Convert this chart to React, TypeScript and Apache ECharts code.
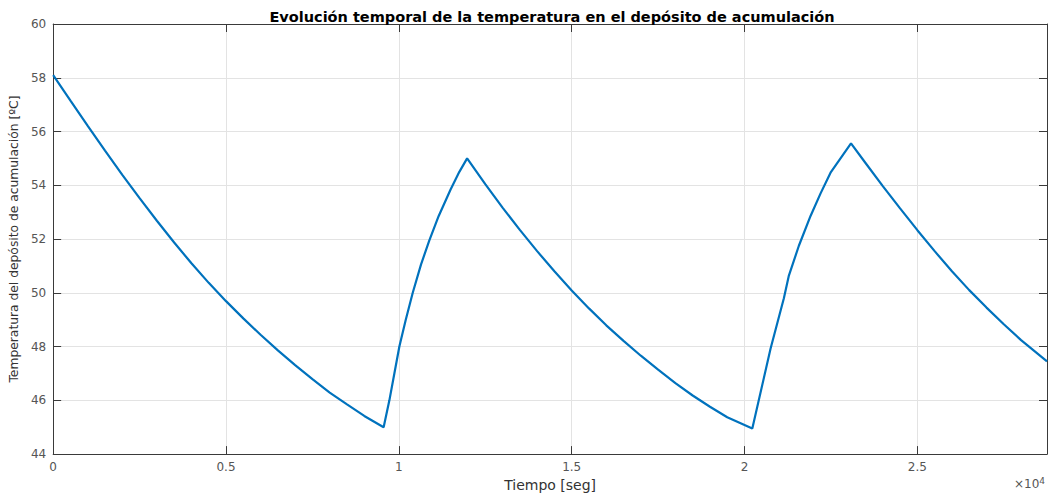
import React, { useEffect, useRef } from "react";
import * as echarts from "echarts";

// Time [s] and temperature [ºC]
const tiempo = [
  0, 500, 1000, 1500, 2000, 2500, 3000, 3500, 4000, 4500, 5000, 5500, 6000, 6500, 7000, 7500, 8000, 8500, 9000, 9560,
  9726, 9870, 10015, 10200, 10402, 10640, 10882, 11150, 11500, 11750, 11975,
  12500, 13000, 13500, 14000, 14500, 15000, 15500, 16000, 16500, 17000, 17500, 18000, 18500, 19000, 19500, 20225,
  20754, 21138, 21283, 21572, 21910, 22200, 22488, 23080,
  23500, 24000, 24500, 25000, 25500, 26000, 26500, 27000, 27500, 28000, 28750,
];
const temperatura = [
  58.1, 57.15, 56.21, 55.29, 54.39, 53.52, 52.68, 51.87, 51.1, 50.37, 49.69, 49.05, 48.44, 47.86, 47.31, 46.79, 46.29, 45.85, 45.42, 45.0,
  46.0, 47.0, 48.0, 49.0, 50.0, 51.05, 51.95, 52.85, 53.85, 54.5, 55.0,
  54.04, 53.17, 52.34, 51.55, 50.8, 50.09, 49.42, 48.79, 48.21, 47.66, 47.14, 46.64, 46.18, 45.76, 45.37, 44.95,
  47.93, 49.8, 50.64, 51.75, 52.86, 53.7, 54.47, 55.56,
  54.83, 53.97, 53.14, 52.33, 51.55, 50.8, 50.1, 49.45, 48.83, 48.24, 47.45,
];

const xMin = 0;
const xMax = 28750;
const xInterval = 5000;
const yMin = 44;
const yMax = 60;
const yInterval = 2;

const titulo = "Evolución temporal de la temperatura en el depósito de acumulación";
const etiquetaX = "Tiempo [seg]";
const etiquetaY = "Temperatura del depósito de acumulación [ºC]";

export default function App() {
  const ref = useRef<HTMLDivElement>(null);
  useEffect(() => {
    document.body.style.margin = "0";
    if (!ref.current) return;
    const chart = echarts.init(ref.current, null, { renderer: "svg" });
    const font = "DejaVu Sans";
    const axisColor = "#3a3a3a";
    const labelColor = "#555555";
    const gridColor = "#e3e3e3";
    const data = tiempo.map((t, i) => [t, temperatura[i]]);
    const xBase = {
      type: "value" as const,
      min: xMin,
      max: xMax,
      interval: xInterval,
      axisLine: { show: true, onZero: false, lineStyle: { color: axisColor, width: 1 } },
      axisTick: { show: true, inside: true, length: 8, lineStyle: { color: axisColor } },
    };
    const yBase = {
      type: "value" as const,
      min: yMin,
      max: yMax,
      interval: yInterval,
      axisLine: { show: true, onZero: false, lineStyle: { color: axisColor, width: 1 } },
      axisTick: { show: true, inside: true, length: 8, lineStyle: { color: axisColor } },
    };
    chart.setOption({
      animation: false,
      backgroundColor: "#ffffff",
      title: {
        text: titulo,
        left: 547,
        textAlign: "center",
        top: 4,
        textStyle: { fontFamily: font, fontSize: 14.5, fontWeight: "bold", color: "#000000" },
      },
      grid: { left: 52, top: 24, right: 6, bottom: 41, containLabel: false },
      xAxis: [
        {
          ...xBase,
          position: "bottom",
          name: etiquetaX,
          nameLocation: "middle",
          nameGap: 21,
          nameTextStyle: { fontFamily: font, fontSize: 14, color: "#333333" },
          axisLabel: {
            fontFamily: font,
            fontSize: 12,
            color: labelColor,
            margin: 7,
            showMaxLabel: false,
            formatter: (v: number) => String(v / 10000),
          },
          splitLine: { show: true, lineStyle: { color: gridColor, width: 1 } },
        },
        {
          ...xBase,
          position: "top",
          axisLabel: { show: false },
          splitLine: { show: false },
        },
      ],
      yAxis: [
        {
          ...yBase,
          position: "left",
          name: etiquetaY,
          nameLocation: "middle",
          nameGap: 23,
          nameTextStyle: { fontFamily: font, fontSize: 12.3, color: "#333333" },
          axisLabel: { fontFamily: font, fontSize: 12, color: labelColor, margin: 7 },
          splitLine: { show: true, lineStyle: { color: gridColor, width: 1 } },
        },
        {
          ...yBase,
          position: "right",
          axisLabel: { show: false },
          splitLine: { show: false },
        },
      ],
      graphic: [
        {
          type: "text",
          right: 8,
          top: 476,
          style: {
            text: "×10{s|4}",
            fontFamily: font,
            fontSize: 12,
            fill: labelColor,
            rich: { s: { fontFamily: font, fontSize: 9, fill: labelColor, verticalAlign: "top", padding: [0, 0, 6, 0] } },
          },
        },
      ],
      series: [
        {
          type: "line",
          data,
          xAxisIndex: 0,
          yAxisIndex: 0,
          showSymbol: false,
          symbol: "none",
          lineStyle: { color: "#0072BD", width: 2.2 },
          clip: true,
        },
      ],
    });
    return () => chart.dispose();
  }, []);
  return <div ref={ref} style={{ width: 1053, height: 497 }} />;
}
